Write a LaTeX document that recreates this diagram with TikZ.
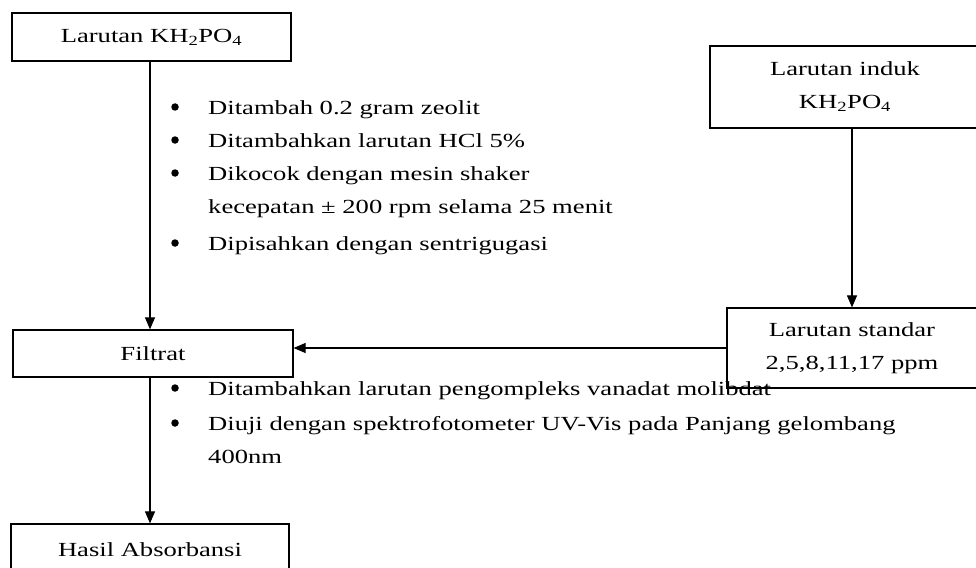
\documentclass[tikz,border=0pt]{standalone}
\usepackage{fontspec}
\setmainfont[FakeStretch=1.33]{Liberation Serif}
\usetikzlibrary{arrows.meta,positioning}

\begin{document}
\begin{tikzpicture}[x=1pt,y=-1pt,
  font=\fontsize{20}{33}\selectfont,
  box/.style={draw,line width=1.2pt,align=center,inner sep=0pt},
  dot/.style={circle,fill,inner sep=0pt,minimum size=7.5pt},
  item/.style={anchor=base west,inner sep=0pt},
  arr/.style={-{Triangle[length=12pt,width=10pt]},line width=1.1pt}]
\useasboundingbox (0,0) rectangle (976,567);
% boxes
\node[box,minimum width=279pt,minimum height=48pt] (lar) at (151.5,37) {Larutan KH\textsubscript{2}PO\textsubscript{4}};
\node[box,minimum width=270pt,minimum height=82pt] (induk) at (845,87) {Larutan induk\\KH\textsubscript{2}PO\textsubscript{4}};
\node[box,minimum width=280pt,minimum height=47pt] (filtrat) at (153,353.5) {Filtrat};
\node[box,minimum width=250pt,minimum height=80pt] (standar) at (852,348) {Larutan standar\\2,5,8,11,17 ppm};
\node[box,minimum width=278pt,minimum height=52pt] (hasil) at (150,550) {Hasil Absorbansi};
% perlakuan sampel
\node[dot] (d1) at (175,107) {};
\node[item] (s1) at (208,114) {Ditambah 0.2 gram zeolit};
\node[dot] (d2) at (175,140) {};
\node[item] (s2) at (208,147) {Ditambahkan larutan HCl 5\%};
\node[dot] (d3) at (175,173) {};
\node[item] (s3) at (208,180) {Dikocok dengan mesin shaker};
\node[item] (s3b) at (208,213) {kecepatan ± 200 rpm selama 25 menit};
\node[dot] (d4) at (175,243) {};
\node[item] (s4) at (208,250) {Dipisahkan dengan sentrigugasi};
% perlakuan filtrat
\node[dot] (d5) at (175,388) {};
\node[item] (f1) at (208,395) {Ditambahkan larutan pengompleks vanadat molibdat};
\node[dot] (d6) at (175,423) {};
\node[item] (f2) at (208,430) {Diuji dengan spektrofotometer UV-Vis pada Panjang gelombang};
\node[item] (f2b) at (208,463) {400nm};
% arrows
\draw[arr] (lar.south -| hasil.north) -- (filtrat.north -| hasil.north);
\draw[arr] (induk.south -| standar.north) -- (standar.north);
\draw[arr] (standar.west) -- (standar.west -| filtrat.east);
\draw[arr] (filtrat.south -| hasil.north) -- (hasil.north);
\end{tikzpicture}
\end{document}
